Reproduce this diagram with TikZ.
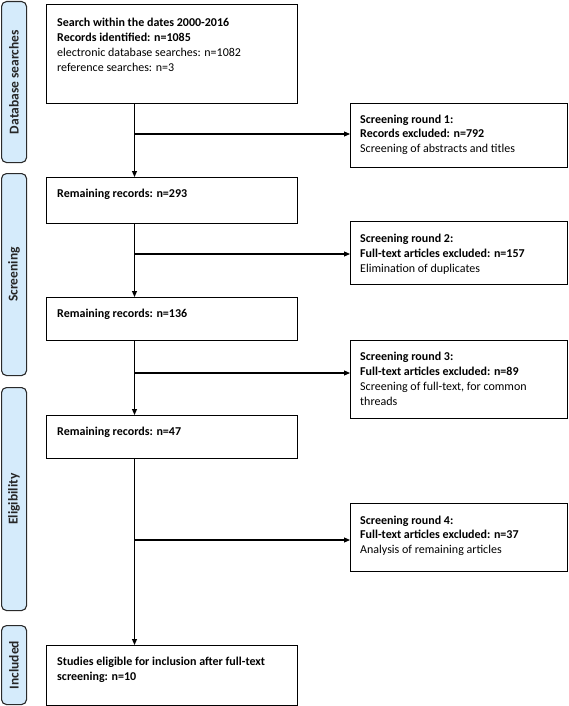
\documentclass[tikz,border=0pt]{standalone}
\usepackage{fontspec}
\setmainfont{Carlito}
\usetikzlibrary{arrows.meta,calc}
\definecolor{bandfill}{HTML}{D5EBFB}
\definecolor{bandline}{HTML}{2A2A2A}
\begin{document}
\begin{tikzpicture}[x=1pt,y=-1pt,
  box/.style={draw=black,line width=1.1pt,inner sep=0pt,anchor=north west},
  band/.style={draw=bandline,fill=bandfill,line width=1.1pt,rounded corners=5pt,inner sep=0pt,anchor=north west,minimum width=25pt},
  bandtxt/.style={rotate=90,font=\fontsize{13.5}{15}\selectfont\bfseries,text=black!85},
  txt/.style={inner sep=0pt,anchor=north west,align=left,font=\fontsize{12}{14.8}\selectfont},
  trunk/.style={line width=1.7pt},
  arr/.style={line width=1.1pt,-{Triangle[length=6pt,width=5pt]}}]
\useasboundingbox (0,0) rectangle (568,706);
% bands
\node[band,minimum height=161pt] (s1) at (1,1) {};
\node[band,minimum height=202pt] (s2) at (1,173) {};
\node[band,minimum height=223pt] (s3) at (1,387) {};
\node[band,minimum height=79pt] (s4) at (1,625) {};
\node[bandtxt] (s1t) at (s1.center) {Database searches};
\node[bandtxt] (s2t) at (s2.center) {Screening};
\node[bandtxt] (s3t) at (s3.center) {Eligibility};
\node[bandtxt] (s4t) at (s4.center) {Included};
% main boxes
\node[box,minimum width=251pt,minimum height=99pt] (b1) at (46,4) {};
\node[box,minimum width=251pt,minimum height=46pt] (b2) at (46,177) {};
\node[box,minimum width=251pt,minimum height=43pt] (b3) at (46,297) {};
\node[box,minimum width=251pt,minimum height=43pt] (b4) at (46,415) {};
\node[box,minimum width=251pt,minimum height=60pt] (b5) at (46,645) {};
% side boxes
\node[box,minimum width=217pt,minimum height=64pt] (r1) at (350,103) {};
\node[box,minimum width=217pt,minimum height=63pt] (r2) at (350,221) {};
\node[box,minimum width=217pt,minimum height=78pt] (r3) at (350,340) {};
\node[box,minimum width=217pt,minimum height=68pt] (r4) at (350,503) {};
% texts
\node[txt] (b1t) at ($(b1.north west)+(11,14)$) {\textbf{Search within the dates 2000-2016}\\\textbf{Records identified: n=1085}\\electronic database searches: n=1082\\reference searches: n=3};
\node[txt] (b2t) at ($(b2.north west)+(11,12)$) {\textbf{Remaining records: n=293}};
\node[txt] (b3t) at ($(b3.north west)+(11,12)$) {\textbf{Remaining records: n=136}};
\node[txt] (b4t) at ($(b4.north west)+(11,12)$) {\textbf{Remaining records: n=47}};
\node[txt] (b5t) at ($(b5.north west)+(11,12)$) {\textbf{Studies eligible for inclusion after full-text}\\\textbf{screening: n=10}};
\node[txt] (r1t) at ($(r1.north west)+(10,11.5)$) {\textbf{Screening round 1:}\\\textbf{Records excluded: n=792}\\Screening of abstracts and titles};
\node[txt] (r2t) at ($(r2.north west)+(10,13)$) {\textbf{Screening round 2:}\\\textbf{Full-text articles excluded: n=157}\\Elimination of duplicates};
\node[txt] (r3t) at ($(r3.north west)+(10,12)$) {\textbf{Screening round 3:}\\\textbf{Full-text articles excluded: n=89}\\Screening of full-text, for common\\threads};
\node[txt] (r4t) at ($(r4.north west)+(10,12.5)$) {\textbf{Screening round 4:}\\\textbf{Full-text articles excluded: n=37}\\Analysis of remaining articles};
% junctions
\coordinate (j1) at (134.5,134);
\coordinate (j2) at (134.5,254);
\coordinate (j3) at (134.5,373);
\coordinate (j4) at (134.5,540);
% trunk
\draw[trunk] (b1.south -| j1) -- (j1);
\draw[arr] (j1) -- (b2.north -| j1);
\draw[trunk] (b2.south -| j2) -- (j2);
\draw[arr] (j2) -- (b3.north -| j2);
\draw[trunk] (b3.south -| j3) -- (j3);
\draw[arr] (j3) -- (b4.north -| j3);
\draw[trunk] (b4.south -| j4) -- (j4);
\draw[arr] (j4) -- (b5.north -| j4);
% branches
\draw[arr] (j1) -- (j1 -| r1.west);
\draw[arr] (j2) -- (j2 -| r2.west);
\draw[arr] (j3) -- (j3 -| r3.west);
\draw[arr] (j4) -- (j4 -| r4.west);
\end{tikzpicture}
\end{document}
